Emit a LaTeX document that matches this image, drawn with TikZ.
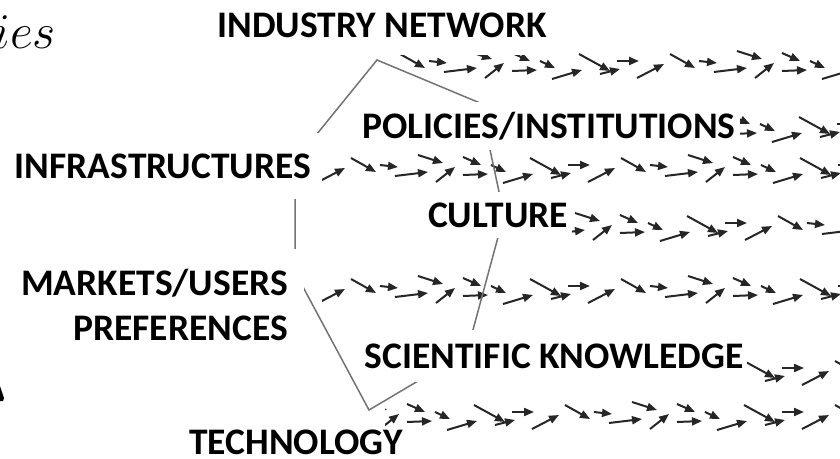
\documentclass[tikz,border=0pt]{standalone}
\usepackage{fix-cm}
\usepackage{fontspec}
\newfontfamily\tagfont{Carlito}
\usetikzlibrary{arrows.meta}

% one band of small drifting arrows: start x, centre y, phase
\newcommand{\flowband}[3]{%
  \begin{scope}
    \clip (#1,#2-19) rectangle (840,#2+19);
    \foreach \k in {0,1,2,3}
      \foreach \a/\b/\c/\d in {0/-12/25/2, 29/-5/47/-3, 44/6/77/2, 67/-15/92/-7,
          85/12/104/-3, 112/-13/130/-5, 112/5/137/4, 140/-5/155/2, 152/13/182/4,
          179/-12/210/5, 200/8/220/3, 217/-5/239/-5, 237/12/264/-2}
        \draw[flow] ({#1-#3+\k*270+\a},{#2+\b}) -- ({#1-#3+\k*270+\c},{#2+\d});
  \end{scope}}

\begin{document}
\begin{tikzpicture}[
  x=1pt, y=-1pt,
  flow/.style={draw=black!85, line width=2pt, -{Triangle[length=10pt,width=8pt]}},
  hexline/.style={draw=black!55, line width=1.5pt},
  regime/.style={fill=white, inner xsep=4pt, inner ysep=12pt, text height=24pt, text depth=0pt,
    font=\tagfont\bfseries\fontsize{37.5}{45}\selectfont}
]
\useasboundingbox (0,0) rectangle (840,458);

\flowband{400}{66}{0}     % industry network
\flowband{740}{129}{120}  % policies
\flowband{322}{170}{241}  % infrastructures
\flowband{568}{228}{60}   % culture
\flowband{322}{291}{241}  % markets
\flowband{745}{373}{180}  % science
\flowband{385}{417}{90}   % technology

\draw[hexline] (377,60) -- (480,103) -- (504,215) -- (467,352) -- (369,410)
  -- (295,272) -- (295,161) -- cycle;

\node (ies) [anchor=base west, font=\fontsize{50}{52}\selectfont] at (-10,48) {$ies$};
\fill (0,386) -- (4,398) -- (3,401) -- (0,401) -- cycle;   % cut-off tip

\node (ind)  [regime, inner ysep=18pt, anchor=base] at (382,37)  {INDUSTRY NETWORK};
\node (pol)  [regime, anchor=base]                  at (549,138) {POLICIES/INSTITUTIONS};
\node (inf)  [regime, inner ysep=21pt, inner xsep=8pt, anchor=base] at (163,178) {INFRASTRUCTURES};
\node (cul)  [regime, inner ysep=11pt, anchor=base] at (498,227) {CULTURE};
\node (mkt)  [regime, text height=, text depth=, align=right, inner xsep=16pt,
  inner ysep=20pt, anchor=east] at (304,305) {MARKETS/USERS\\PREFERENCES};
\node (sci)  [regime, inner ysep=14pt, anchor=base] at (554,368) {SCIENTIFIC KNOWLEDGE};
\node (tech) [regime, inner ysep=3pt, anchor=base]  at (296,454) {TECHNOLOGY};
\end{tikzpicture}
\end{document}
